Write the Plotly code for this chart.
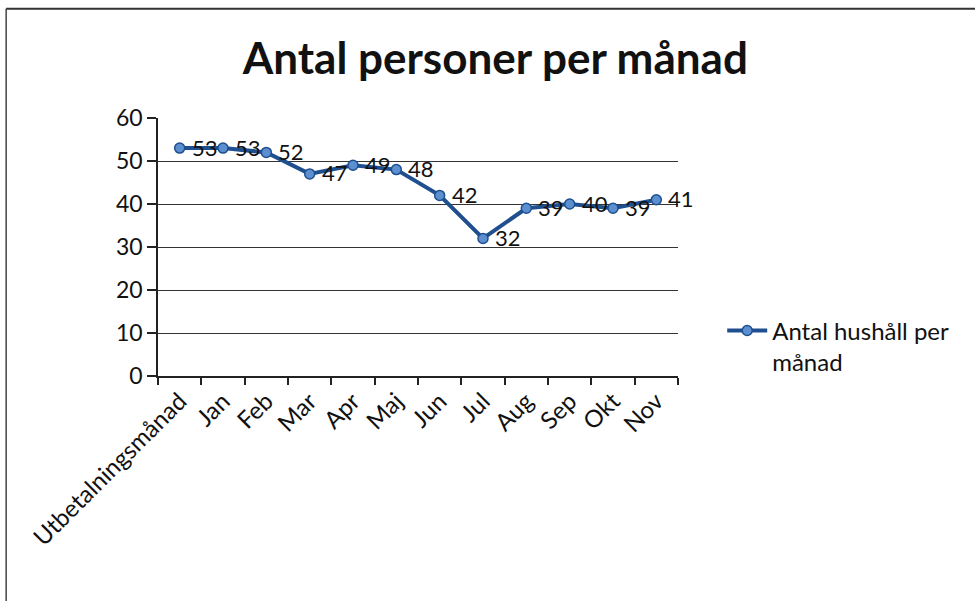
import plotly.graph_objects as go

months = ["Utbetalningsmånad", "Jan", "Feb", "Mar", "Apr", "Maj",
          "Jun", "Jul", "Aug", "Sep", "Okt", "Nov"]
households = [53, 53, 52, 47, 49, 48, 42, 32, 39, 40, 39, 41]
series_name = "Antal hushåll per<br>månad"

font = "Lato, 'Open Sans', sans-serif"

fig = go.Figure()

fig.add_trace(go.Scatter(
    x=months, y=households,
    mode="lines+markers",
    name=series_name,
    line=dict(color="#1f4f8f", width=4),
    marker=dict(symbol="circle", size=10, color="#5b8fd0",
                line=dict(color="#1f4f8f", width=1.5)),
))

# data labels, right of each point
for m, v in zip(months, households):
    fig.add_annotation(x=m, y=v, text=str(v), showarrow=False,
                       xanchor="left", yanchor="middle", xshift=10, yshift=1,
                       font=dict(size=22, color="#111111", family=font))

fig.update_layout(
    width=975, height=601,
    paper_bgcolor="white", plot_bgcolor="white",
    margin=dict(l=158, r=297, t=118, b=225),
    font=dict(family=font, color="#111111"),
    title=dict(text="<b>Antal personer per månad</b>", x=0.508, xanchor="center",
               y=0.903, yanchor="middle", font=dict(size=44, color="#111111")),
    showlegend=True,
    legend=dict(x=1.085, y=0.262, xanchor="left", yanchor="top",
                font=dict(size=24), bgcolor="rgba(0,0,0,0)",
                valign="top", itemwidth=40),
)

fig.update_xaxes(
    type="category", range=[-0.5, 11.5],
    tickson="boundaries", ticks="outside", ticklen=7, tickcolor="#222",
    tickwidth=1.5, tickangle=-45, tickfont=dict(size=24),
    showline=True, linecolor="#222", linewidth=1.5,
    showgrid=False, zeroline=False,
)
fig.update_yaxes(
    range=[0, 60], dtick=10, ticks="outside", ticklen=9, tickcolor="#222",
    tickwidth=1.5, tickfont=dict(size=23), showline=True, linecolor="#222",
    linewidth=1.5, showgrid=True, gridcolor="#333", gridwidth=1.2,
    zeroline=False,
)

# outer chart border (only the left and top edges are visible)
fig.add_shape(type="line", xref="paper", yref="paper",
              x0=-0.292, x1=-0.292, y0=-0.9, y1=1.423,
              line=dict(color="#444", width=1.5))
fig.add_shape(type="line", xref="paper", yref="paper",
              x0=-0.292, x1=1.6, y0=1.423, y1=1.423,
              line=dict(color="#333", width=2))

fig.write_html("out.html", config={"displayModeBar": False},
               post_script="document.body.style.margin='0';")
